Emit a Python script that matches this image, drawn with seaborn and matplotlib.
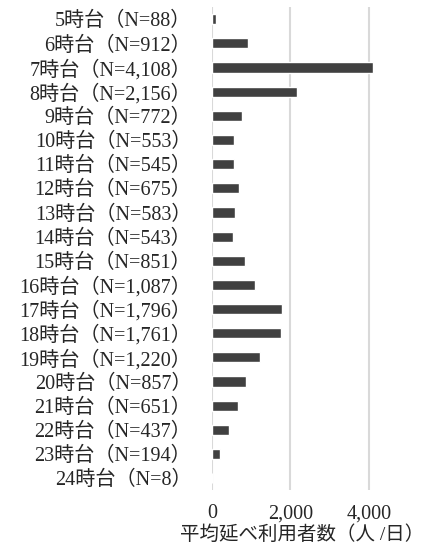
import matplotlib

matplotlib.use("Agg")
import matplotlib.pyplot as plt
import matplotlib.ticker as mticker
import pandas as pd
import seaborn as sns

# data
hours = [f"{h}時台" for h in range(5, 25)]
counts = [88, 912, 4108, 2156, 772, 553, 545, 675, 583, 543,
          851, 1087, 1796, 1761, 1220, 857, 651, 437, 194, 8]
labels = [f"{h}（N={n:,}）" for h, n in zip(hours, counts)]
x_ticks = [0, 2000, 4000]

df = pd.DataFrame({"label": labels, "value": counts})

sns.set_style("white")
FONTS = ["Liberation Serif", "Noto Sans CJK JP", "DejaVu Sans"]
plt.rcParams["font.family"] = FONTS

fig = plt.figure(figsize=(4.33, 5.52), dpi=100)
ax = fig.add_axes([0.490, 0.112, 0.452, 0.875])

sns.barplot(data=df, x="value", y="label", color="#404040",
            saturation=1, width=0.42, ax=ax, zorder=3)

ax.set_xlim(0, 5000)
ax.set_xticks(x_ticks)
ax.xaxis.set_major_formatter(mticker.FuncFormatter(lambda v, p: f"{int(v):,}"))
ax.grid(axis="x", color="#d9d9d9", linewidth=1.5, zorder=0)
ax.grid(axis="y", visible=False)
for s in ax.spines.values():
    s.set_visible(False)

ax.tick_params(axis="y", length=0, pad=15, labelsize=14.5)
ax.tick_params(axis="x", length=0, pad=10, labelsize=14.5)
ax.set_ylabel("")
ax.set_xlabel("平均延べ利用者数（人 /日）", fontsize=14)
ax.xaxis.set_label_coords(0.46, -0.072)

fig.savefig("out.png", dpi=100)
